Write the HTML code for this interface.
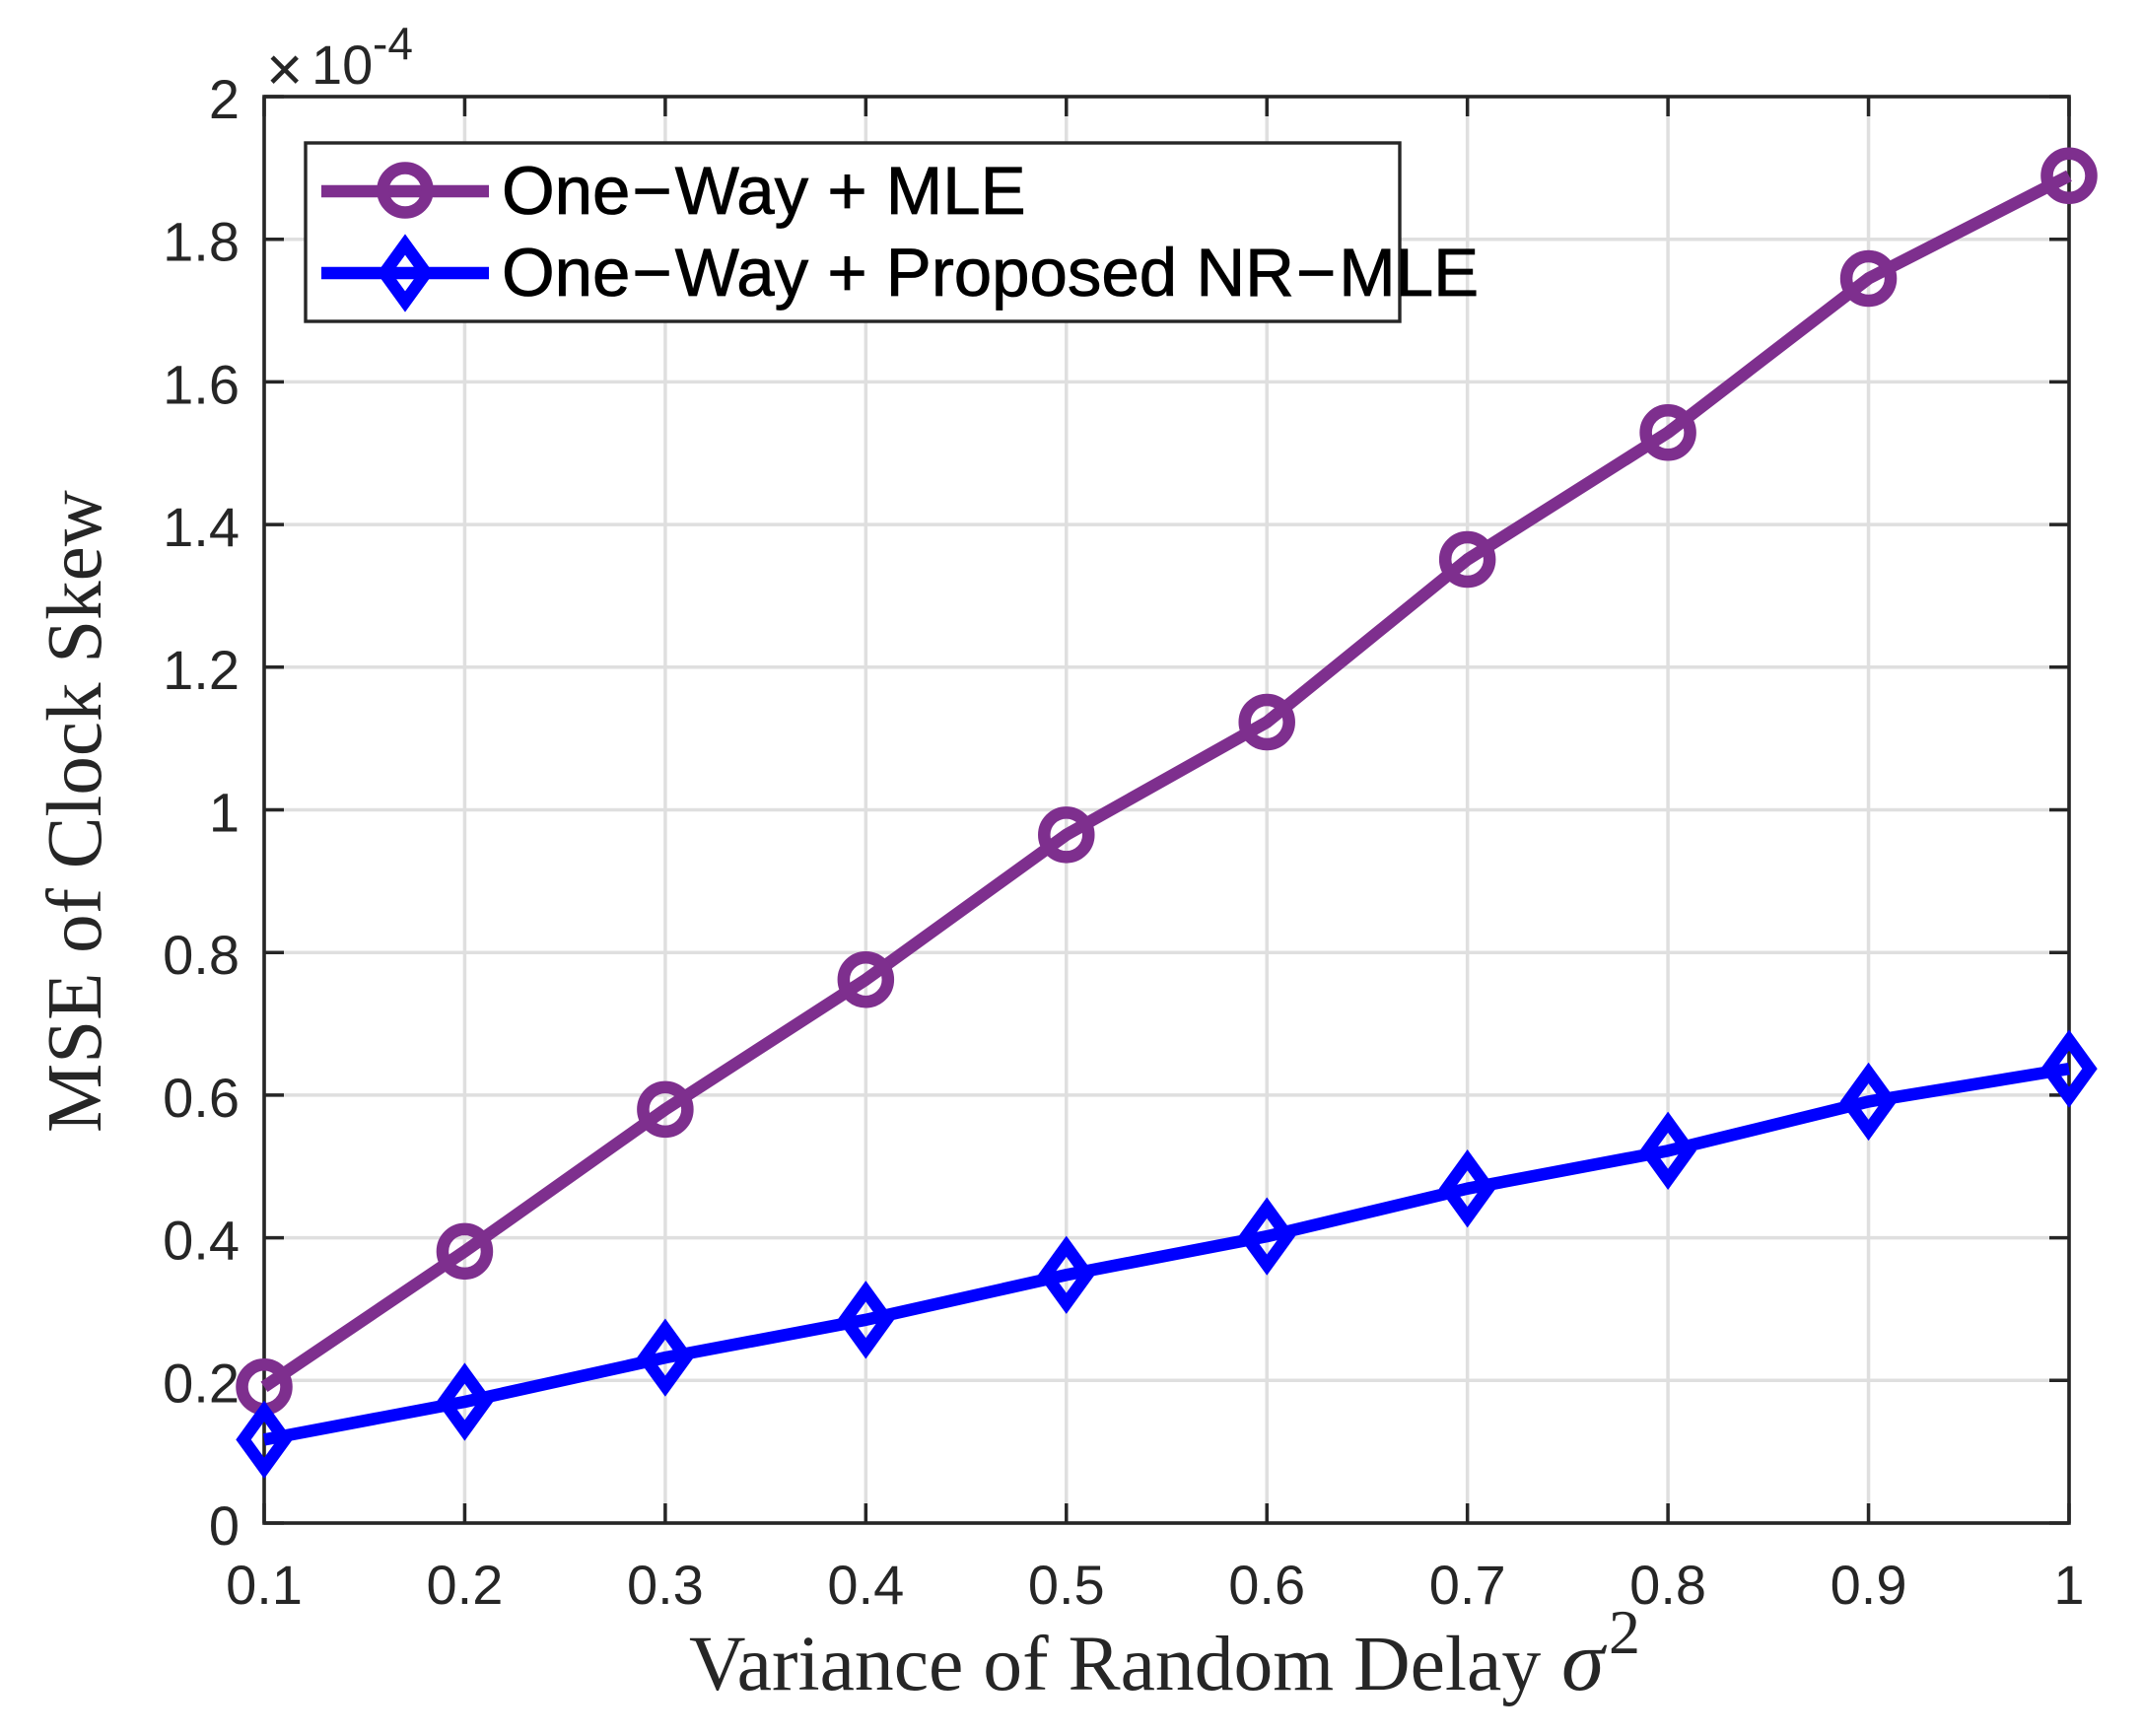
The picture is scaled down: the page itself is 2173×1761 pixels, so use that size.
<!DOCTYPE html>
<html>
<head>
<meta charset="utf-8">
<title>MSE of Clock Skew</title>
<style>
html,body{margin:0;padding:0;background:#fff;width:2173px;height:1761px;overflow:hidden}
svg{display:block}
text{font-family:"Liberation Sans",Arial,sans-serif;fill:#262626}
.serif{font-family:"Liberation Serif","Times New Roman",serif}
</style>
</head>
<body>
<svg id="chart" xmlns="http://www.w3.org/2000/svg" width="2173" height="1761" viewBox="0 0 2173 1761">
  <rect x="0" y="0" width="2173" height="1761" fill="#fff"/>
  <g id="grid"></g>
  <g id="ticks"></g>
  <rect x="268" y="98" width="1831" height="1447" fill="none" stroke="#262626" stroke-width="3.6"/>
  <g id="tick-labels"></g>
  <g>
    <text x="270" y="92" font-size="64">×</text>
    <text x="316" y="85" font-size="56">10</text>
    <text x="378" y="60" font-size="46">-4</text>
  </g>
  <text class="serif" transform="translate(102,1149) rotate(-90)" font-size="79">MSE of Clock Skew</text>
  <text class="serif" x="699" y="1714" font-size="79.6">Variance of Random Delay</text>
  <text class="serif" x="1584" y="1714" font-size="88" font-style="italic">σ</text>
  <text class="serif" x="1632" y="1677" font-size="64">2</text>
  <g id="series"></g>
  <g id="legend">
    <rect x="310" y="145" width="1110" height="181" fill="#fff" stroke="#262626" stroke-width="3.4"/>
    <g id="legend-mle"></g>
    <g id="legend-nr"></g>
    <text x="509" y="217" font-size="69" stroke="#000" stroke-width="0.8" style="fill:#000">One<tspan dx="2">−</tspan><tspan dx="3">Way + MLE</tspan></text>
    <text x="509" y="300" font-size="69" stroke="#000" stroke-width="0.8" style="fill:#000">One<tspan dx="2">−</tspan><tspan dx="3">Way + Proposed NR</tspan><tspan dx="2">−</tspan><tspan dx="3">MLE</tspan></text>
  </g>
</svg>
<script>
const xValues = [0.1,0.2,0.3,0.4,0.5,0.6,0.7,0.8,0.9,1];
const mleValues = [0.191,0.381,0.58,0.762,0.965,1.123,1.351,1.529,1.745,1.889];
const nrMleValues = [0.117,0.17,0.232,0.285,0.348,0.402,0.469,0.522,0.591,0.637];
const xTicks = [0.1,0.2,0.3,0.4,0.5,0.6,0.7,0.8,0.9,1];
const yTicks = [0,0.2,0.4,0.6,0.8,1,1.2,1.4,1.6,1.8,2];

const NS = 'http://www.w3.org/2000/svg';
const L = 268, R = 2099, T = 98, B = 1545;
const xMin = 0.1, xMax = 1, yMin = 0, yMax = 2;
function xScale(v){ return L + (v - xMin) / (xMax - xMin) * (R - L); }
function yScale(v){ return B - (v - yMin) / (yMax - yMin) * (B - T); }
function make(tag, attrs, parent){
  const el = document.createElementNS(NS, tag);
  for (const k in attrs) el.setAttribute(k, attrs[k]);
  parent.appendChild(el);
  return el;
}
const gridG = document.getElementById('grid');
const ticksG = document.getElementById('ticks');
const labelsG = document.getElementById('tick-labels');
const GRID = '#dfdfdf', AXIS = '#262626', TL = 20;

xTicks.forEach(function(v){
  const x = xScale(v);
  const g = make('line', {x1:x, x2:x, y1:T, y2:B, stroke:GRID, 'stroke-width':3.5}, gridG);
  
  
  const t1 = make('line', {x1:x, x2:x, y1:B, y2:B-TL, stroke:AXIS, 'stroke-width':3.5}, ticksG);
  
  
  const t2 = make('line', {x1:x, x2:x, y1:T, y2:T+TL, stroke:AXIS, 'stroke-width':3.5}, ticksG);
  
  
  const lb = make('text', {x:x, y:1627, 'font-size':56, 'text-anchor':'middle'}, labelsG);
  
  
  lb.textContent = String(v);
});
yTicks.forEach(function(v){
  const y = yScale(v);
  const g = make('line', {x1:L, x2:R, y1:y, y2:y, stroke:GRID, 'stroke-width':3.5}, gridG);
  
  
  const t1 = make('line', {x1:L, x2:L+TL, y1:y, y2:y, stroke:AXIS, 'stroke-width':3.5}, ticksG);
  
  
  const t2 = make('line', {x1:R, x2:R-TL, y1:y, y2:y, stroke:AXIS, 'stroke-width':3.5}, ticksG);
  
  
  const lb = make('text', {x:243, y:y+22, 'font-size':56, 'text-anchor':'end'}, labelsG);
  
  
  lb.textContent = String(v);
});

const LW = 12.5;
function circleMarker(x, y, color, parent){
  const m = make('circle', {cx:x, cy:y, r:22.5, fill:'none', stroke:color, 'stroke-width':LW}, parent);
  
  
}
function diamondMarker(x, y, color, parent){
  const a = 21, b = 29;
  const pts = [[x,y-b],[x+a,y],[x,y+b],[x-a,y]].map(function(p){return p.join(',');}).join(' ');
  const m = make('polygon', {points:pts, fill:'none', stroke:color, 'stroke-width':LW, 'stroke-miterlimit':10}, parent);
  
  
}
function drawSeries(values, color, marker, name){
  const host = document.getElementById('series');
  const g = make('g', {}, host);
  
  
  const pts = values.map(function(v, i){ return xScale(xValues[i]) + ',' + yScale(v); }).join(' ');
  const line = make('polyline', {points:pts, fill:'none', stroke:color, 'stroke-width':LW, 'stroke-linejoin':'round'}, g);
  
  
  values.forEach(function(v, i){ marker(xScale(xValues[i]), yScale(v), color, g); });
}
const PURPLE = '#7e2f8e', BLUE = '#0000ff';
drawSeries(mleValues, PURPLE, circleMarker, 'series-one-way-mle');
drawSeries(nrMleValues, BLUE, diamondMarker, 'series-one-way-nr-mle');

const legA = document.getElementById('legend-mle');
const legB = document.getElementById('legend-nr');
const la = make('line', {x1:326, x2:496, y1:194, y2:194, stroke:PURPLE, 'stroke-width':LW}, legA);


circleMarker(411, 193, PURPLE, legA);
const lbb = make('line', {x1:326, x2:496, y1:277, y2:277, stroke:BLUE, 'stroke-width':LW}, legB);


diamondMarker(411, 277, BLUE, legB);
</script>
</body>
</html>
